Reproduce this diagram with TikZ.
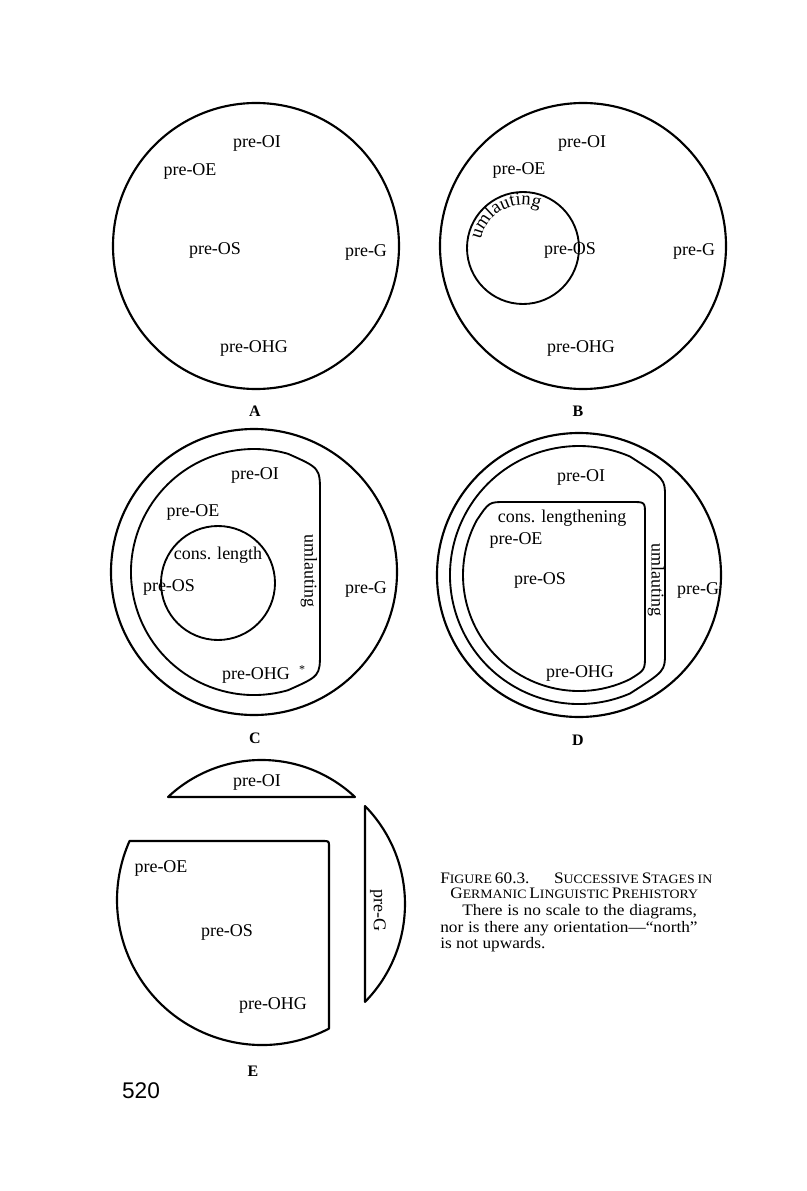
\documentclass[tikz,border=0pt]{standalone}
\usepackage{fontspec}
\setmainfont{Liberation Serif}
\newfontfamily\capfont[FakeStretch=1.08,Ligatures=TeX]{Liberation Serif}
\newfontfamily\pagefont{Liberation Sans}
\usetikzlibrary{decorations.text,calc}
\newcommand\fsc[1]{{\fontsize{9.6}{10}\selectfont #1}}
\begin{document}
\begin{tikzpicture}[x=0.75pt,y=-0.75pt,
  lbl/.style={font=\fontsize{13.5}{15}\selectfont, inner sep=0pt},
  panel/.style={font=\fontsize{12}{14}\selectfont\bfseries, inner sep=0pt},
  ring/.style={draw, line width=1.6pt, line join=round},
  thinring/.style={draw, line width=1.4pt, line join=round},
  capline/.style={font=\capfont\fontsize{12}{13}\selectfont, inner sep=0pt, anchor=base west}]
\useasboundingbox[fill=white] (0,0) rectangle (806,1191);

% ---------------- A ----------------
\draw[ring] (256,246) circle[radius=143];
\node[lbl] (aoi) at (257,143) {pre-OI};
\node[lbl] (aoe) at (190,171) {pre-OE};
\node[lbl] (aos) at (215,250) {pre-OS};
\node[lbl] (ag) at (366,252) {pre-G};
\node[lbl] (aohg) at (254,348) {pre-OHG};
\node[panel] (alab) at (255,411) {A};

% ---------------- B ----------------
\draw[ring] (583,246) circle[radius=143];
\draw[thinring] (523,248) circle[radius=56];
\path[decorate, decoration={text along path, text align=center,
  text={|\fontsize{14}{15}\selectfont|umlauting}}]
  ($(523,248)+(186:43)$) arc[start angle=186, end angle=298, radius=43];
\node[lbl] (boi) at (582,143) {pre-OI};
\node[lbl] (boe) at (519,170) {pre-OE};
\node[lbl] (bos) at (570,250) {pre-OS};
\node[lbl] (bg) at (694,251) {pre-G};
\node[lbl] (bohg) at (581,348) {pre-OHG};
\node[panel] (blab) at (578,411) {B};

% ---------------- C ----------------
\draw[ring] (254,572) circle[radius=143];
\draw[thinring] (320,493) -- (320,652) .. controls (320,676) ..
  ($(254,572)+(74:123)$) arc[start angle=74, end angle=286, radius=123]
  .. controls (320,468) .. (320,493) -- cycle;
\draw[thinring] (218,583) circle[radius=57];
\node[lbl] (coi) at (255,475) {pre-OI};
\node[lbl] (coe) at (193,512) {pre-OE};
\node[lbl] (ccl) at (218,555) {cons. length};
\node[lbl] (cos) at (169,587) {pre-OS};
\node[lbl, rotate=-90] (cuml) at (309,571) {umlauting};
\node[lbl] (cg) at (366,589) {pre-G};
\node[lbl] (cohg) at (256,675) {pre-OHG};
\node[font=\fontsize{9}{10}\selectfont, inner sep=0pt] (cast) at (302,670) {*};
\node[panel] (clab) at (255,738) {C};

% ---------------- D ----------------
\draw[ring] (579,575) circle[radius=142];
\draw[thinring] (665,497) -- (665,653) .. controls (665,671) ..
  ($(579,575)+(66.7:129)$) arc[start angle=66.7, end angle=293.3, radius=129]
  .. controls (665,479) .. (665,497) -- cycle;
\draw[thinring] (505,502) -- (632,502) .. controls (645,502) .. (645,515)
  -- (645,655) .. controls (645,670) ..
  ($(579,575)+(64:116)$) arc[start angle=64, end angle=208, radius=116]
  .. controls (489,502) .. (505,502) -- cycle;
\node[lbl] (doi) at (581,477) {pre-OI};
\node[lbl] (dcl) at (562,518) {cons. lengthening};
\node[lbl] (doe) at (516,540) {pre-OE};
\node[lbl] (dos) at (540,580) {pre-OS};
\node[lbl, rotate=-90] (duml) at (656,580) {umlauting};
\node[lbl] (dg) at (698,590) {pre-G};
\node[lbl] (dohg) at (580,673) {pre-OHG};
\node[panel] (dlab) at (578,740) {D};

% ---------------- E ----------------
\draw[ring] (168,797) -- (355,797) arc[start angle=313.2, end angle=226.8, radius=136.6] -- cycle;
\draw[ring] (365,806) arc[start angle=-44.4, end angle=44.4, radius=140] -- cycle;
\draw[ring] ($(262,900)+(62.5:145)$) arc[start angle=62.5, end angle=204, radius=145]
  -- (323,841) .. controls (329,841) .. (329,847) -- cycle;
\node[lbl] (eoi) at (257,782) {pre-OI};
\node[lbl] (eoe) at (161,868) {pre-OE};
\node[lbl] (eos) at (227,932) {pre-OS};
\node[lbl, rotate=-90] (eg) at (378,910) {pre-G};
\node[lbl] (eohg) at (273,1005) {pre-OHG};
\node[panel] (elab) at (253,1071) {E};

% ---------------- page number ----------------
\node[font=\pagefont\fontsize{17}{19}\selectfont, inner sep=0pt] (pnum) at (141,1091) {520};

% ---------------- caption ----------------
\node[capline] (cap1) at (440,883) {\makebox[193pt][s]{F\fsc{IGURE} 60.3.\hspace{1.2em} S\fsc{UCCESSIVE} S\fsc{TAGES} \fsc{IN}}};
\node[capline] (cap2) at (450,898) {\makebox[182pt][s]{G\fsc{ERMANIC} L\fsc{INGUISTIC} P\fsc{REHISTORY}}};
\node[capline] (cap3) at (462,915) {\makebox[176pt][s]{There is no scale to the diagrams,}};
\node[capline] (cap4) at (440,932) {\makebox[193pt][s]{nor is there any orientation—“north”}};
\node[capline] (cap5) at (440,948) {is not upwards.};
\end{tikzpicture}
\end{document}
